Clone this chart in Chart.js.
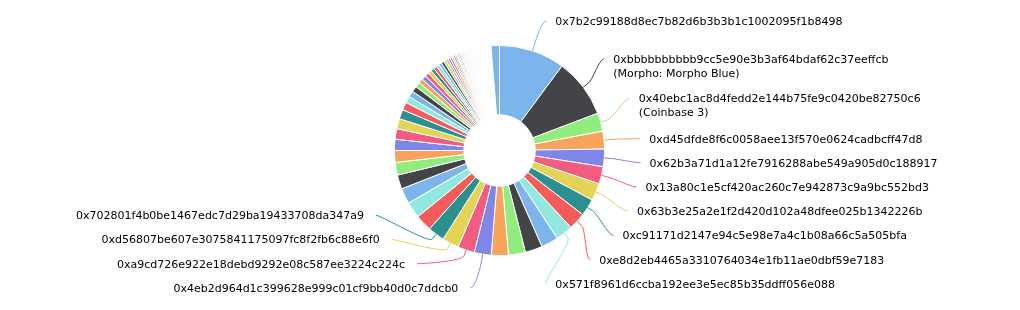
<!DOCTYPE html>
<html>
<head>
<meta charset="utf-8">
<script src="https://cdn.jsdelivr.net/npm/chart.js@4.4.0/dist/chart.umd.min.js"></script>
<style>
    html, body { margin: 0; padding: 0; background: #fff; }
    #wrap { position: relative; width: 1020px; height: 310px; }
</style>
</head>
<body>
<div id="wrap"><canvas id="chart"></canvas></div>
<script>
// holder addresses, only the ones that carry a visible label
const holders = [
    '0x7b2c99188d8ec7b82d6b3b3b1c1002095f1b8498',
    '0xbbbbbbbbbb9cc5e90e3b3af64bdaf62c37eeffcb',
    '0x40ebc1ac8d4fedd2e144b75fe9c0420be82750c6',
    '0xd45dfde8f6c0058aee13f570e0624cadbcff47d8',
    '0x62b3a71d1a12fe7916288abe549a905d0c188917',
    '0x13a80c1e5cf420ac260c7e942873c9a9bc552bd3',
    '0x63b3e25a2e1f2d420d102a48dfee025b1342226b',
    '0xc91171d2147e94c5e98e7a4c1b08a66c5a505bfa',
    '0xe8d2eb4465a3310764034e1fb11ae0dbf59e7183',
    '0x571f8961d6ccba192ee3e5ec85b35ddff056e088',
    null, null, null, null,
    '0x4eb2d964d1c399628e999c01cf9bb40d0c7ddcb0',
    '0xa9cd726e922e18debd9292e08c587ee3224c224c',
    '0xd56807be607e3075841175097fc8f2fb6c88e6f0',
    '0x702801f4b0be1467edc7d29ba19433708da347a9'
];
const holderTags = [null, '(Morpho: Morpho Blue)', '(Coinbase 3)'];

// share of supply per holder (%)
const topShares = [
    10.14, 9.08, 2.83, 2.72, 2.69, 2.67, 2.67, 2.64, 2.64, 2.64,
    2.64, 2.64, 2.61, 2.61, 2.61, 2.58, 2.58, 2.58, 2.56, 2.50,
    2.39, 2.17, 1.94, 1.83, 1.72, 1.61, 1.56, 1.44, 1.22, 1.00,
    0.94, 0.89, 0.78, 0.72, 0.67, 0.61
];
const tailShares = [
    0.56, 0.53, 0.50, 0.47, 0.44, 0.42, 0.39, 0.36, 0.33, 0.31,
    0.28, 0.25, 0.22, 0.22, 0.19, 0.19, 0.17, 0.17, 0.14, 0.14,
    0.14, 0.11, 0.11, 0.11, 0.11, 0.08, 0.08, 0.08, 0.08, 0.08,
    0.08, 0.06, 0.06, 0.06, 0.06, 0.06, 0.06, 0.06, 0.06, 0.06,
    0.06, 0.06, 0.06, 0.06, 0.06, 0.06, 0.06, 0.06, 0.06, 0.06,
    0.06, 0.03, 0.03, 0.03, 0.03, 0.03, 0.03, 0.03, 0.03, 0.03,
    0.03, 0.03, 0.03, 0.03, 0.03, 0.03, 0.03, 0.03, 0.03, 0.03,
    0.03, 0.03, 0.03, 0.03, 0.03, 0.03, 0.03, 0.03, 0.03, 0.03,
    0.03, 0.03, 0.03, 0.03, 0.03, 0.03, 0.03, 0.03, 0.03, 0.03,
    0.03, 0.03, 0.03, 0.03, 0.03, 0.03, 0.03, 0.03, 0.03, 0.03,
    0.03, 0.03, 0.03, 0.03, 0.03, 0.03, 0.03, 0.03, 0.03, 0.03,
    0.03, 0.03, 0.03, 0.03, 0.03, 0.03, 0.03
];
const otherShare = [1.30];

const palette = ['#7cb5ec', '#434348', '#90ed7d', '#f7a35c', '#8085e9',
                 '#f15c80', '#e4d354', '#2b908f', '#f45b5b', '#91e8e1'];

const shares = topShares.concat(tailShares, otherShare);
const colors = shares.map((v, i) => palette[i % palette.length]);
colors[colors.length - 1] = palette[0];
const labels = shares.map((v, i) => holders[i] || '');

// rough port of the highcharts label distribution: merge overlapping boxes
function distribute(items, minY, maxY) {
    items.sort((a, b) => a.target - b.target);
    let boxes = items.map(it => ({ size: it.h, targets: [it.target], members: [it], pos: it.target - it.h / 2 }));
    let merged = true;
    while (merged) {
        merged = false;
        boxes.forEach(b => {
            if (b.pos + b.size > maxY) b.pos = maxY - b.size;
            if (b.pos < minY) b.pos = minY;
        });
        for (let i = boxes.length - 1; i > 0; i--) {
            const b = boxes[i], p = boxes[i - 1];
            if (b.pos < p.pos + p.size - 0.01) {
                p.size += b.size;
                p.targets = p.targets.concat(b.targets);
                p.members = p.members.concat(b.members);
                const avg = p.targets.reduce((s, t) => s + t, 0) / p.targets.length;
                p.pos = avg - p.size / 2;
                boxes.splice(i, 1);
                merged = true;
            }
        }
    }
    boxes.forEach(b => {
        let y = b.pos;
        b.members.forEach(m => { m.y = y + m.h / 2; y += m.h; });
    });
}

const pieLabels = {
    id: 'pieLabels',
    afterDatasetsDraw(chart) {
        const ctx = chart.ctx;
        const arcs = chart.getDatasetMeta(0).data;
        const cx = arcs[0].x, cy = arcs[0].y, R = arcs[0].outerRadius;
        const D = R + 33.5;
        const left = [], right = [];
        arcs.forEach((arc, i) => {
            if (!holders[i]) return;
            const a = (arc.startAngle + arc.endAngle) / 2;
            const lines = [holders[i]];
            if (holderTags[i]) lines.push(holderTags[i]);
            const item = { i, a, lines, h: lines.length > 1 ? 36.5 : 24.2, target: cy + D * Math.sin(a), color: colors[i] };
            (Math.cos(a) < 0 ? left : right).push(item);
        });
        distribute(right, 7, 298);
        distribute(left, 7, 298);

        ctx.save();
        ctx.font = '11px "DejaVu Sans"';
        ctx.textBaseline = 'middle';
        ctx.fillStyle = '#000';
        [[right, 1], [left, -1]].forEach(([items, dir]) => {
            items.forEach(it => {
                const multi = it.lines.length > 1;
                const firstY = it.y + 3 - (multi ? 10 : 0);
                const dy = it.y - (multi ? 10.5 : 0) - cy;
                const w = Math.sqrt(Math.max(0, D * D - dy * dy));
                const textX = cx + dir * (w + 12);
                const ax = textX - dir * (dir > 0 ? 9 : 12);
                const ay = firstY - 1;
                const tx = cx + R * Math.cos(it.a), ty = cy + R * Math.sin(it.a);
                const bx = cx + (R + 6) * Math.cos(it.a), by = cy + (R + 6) * Math.sin(it.a);

                ctx.beginPath();
                ctx.moveTo(ax, ay);
                ctx.bezierCurveTo(ax - dir * 5, ay, 2 * bx - tx, 2 * by - ty, bx, by);
                ctx.lineTo(tx, ty);
                ctx.strokeStyle = it.color;
                ctx.lineWidth = 1;
                ctx.stroke();

                ctx.textAlign = dir > 0 ? 'left' : 'right';
                it.lines.forEach((line, k) => ctx.fillText(line, textX, firstY + k * 14));
            });
        });
        ctx.restore();
    }
};

new Chart(document.getElementById('chart'), {
    type: 'doughnut',
    data: {
        labels: labels,
        datasets: [{
            data: shares,
            backgroundColor: colors,
            borderColor: '#ffffff',
            borderWidth: 1,
            hoverOffset: 0
        }]
    },
    options: {
        responsive: true,
        maintainAspectRatio: false,
        animation: false,
        events: [],
        cutout: '34%',
        layout: { padding: { left: 394, right: 415, top: 45, bottom: 54 } },
        plugins: {
            legend: { display: false },
            tooltip: { enabled: false }
        }
    },
    plugins: [pieLabels]
});
</script>
</body>
</html>
